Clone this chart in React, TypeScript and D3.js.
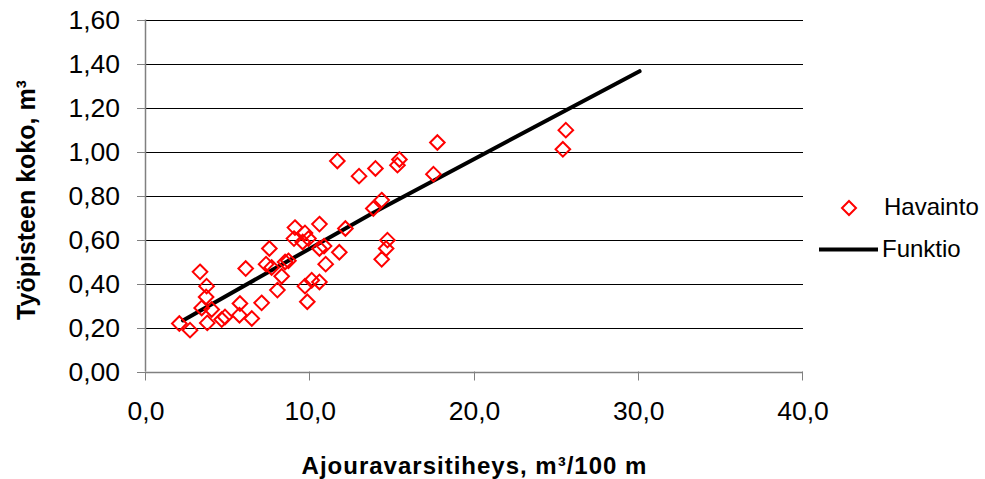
import React from "react";
import * as d3 from "d3";

const obsX = [2.03, 2.68, 3.29, 3.69, 3.66, 3.39, 4.0, 3.73, 4.61, 4.81, 5.72, 5.69, 6.44, 6.07, 7.04, 7.51, 7.31, 7.65, 8.0, 8.26, 8.47, 8.67, 9.07, 9.01, 9.54, 9.68, 9.89, 9.68, 10.09, 9.82, 10.56, 10.56, 10.56, 10.84, 10.94, 11.77, 11.65, 12.14, 12.97, 13.97, 13.84, 14.35, 14.7, 14.62, 14.35, 15.31, 15.43, 17.5, 17.74, 25.38, 25.56];
const obsY = [0.218, 0.188, 0.453, 0.388, 0.339, 0.289, 0.282, 0.221, 0.236, 0.248, 0.309, 0.256, 0.241, 0.468, 0.312, 0.559, 0.488, 0.473, 0.37, 0.433, 0.498, 0.503, 0.654, 0.604, 0.589, 0.63, 0.604, 0.388, 0.415, 0.317, 0.407, 0.67, 0.559, 0.57, 0.488, 0.542, 0.957, 0.65, 0.888, 0.923, 0.741, 0.779, 0.597, 0.559, 0.51, 0.938, 0.964, 0.897, 1.041, 1.01, 1.097];
const funcX = [2.25, 13.84, 30.05];
const funcY = [0.232, 0.722, 1.365];
const xTicks = [0, 10, 20, 30, 40];
const yTicks = [0, 0.2, 0.4, 0.6, 0.8, 1.0, 1.2, 1.4, 1.6];

const W = 985;
const H = 479;
const FONT = "'Liberation Sans', Arial, Helvetica, sans-serif";

export default function App() {
  const x = d3.scaleLinear().domain([0, 40]).range([146, 803]);
  const y = d3.scaleLinear().domain([0, 1.6]).range([371.5, 19.5]);
  const fmtX = (v: number) => v.toFixed(1).replace(".", ",");
  const fmtY = (v: number) => v.toFixed(2).replace(".", ",");
  const line = d3
    .line<number>()
    .x((_, i) => x(funcX[i]))
    .y((d) => y(d));
  const diamond = (cx: number, cy: number, r: number) =>
    `M${cx},${cy - r}L${cx + r},${cy}L${cx},${cy + r}L${cx - r},${cy}Z`;
  const x0 = x(0);
  const y0 = y(0);

  return (
    <div style={{ position: "absolute", left: 0, top: 0 }}>
      <svg width={W} height={H} style={{ display: "block", background: "#fff" }} fontFamily={FONT}>
        {yTicks
          .filter((t) => t > 0)
          .map((t) => (
            <line key={"g" + t} x1={x0} x2={x(40)} y1={Math.round(y(t)) + 0.5} y2={Math.round(y(t)) + 0.5} stroke="#000" strokeWidth={1} />
          ))}
        {/* axes */}
        <line x1={x0 - 0.5} x2={x0 - 0.5} y1={y(1.6)} y2={y0} stroke="#808080" strokeWidth={1.5} />
        <line x1={x0} x2={x(40)} y1={Math.round(y0) + 0.5} y2={Math.round(y0) + 0.5} stroke="#808080" strokeWidth={1.5} />
        {yTicks.map((t) => (
          <g key={"yt" + t}>
            <line x1={x0 - 9} x2={x0} y1={Math.round(y(t)) + 0.5} y2={Math.round(y(t)) + 0.5} stroke="#808080" strokeWidth={1} />
            <text x={120} y={y(t) + 9.5} textAnchor="end" fontSize={26.5} fill="#000">
              {fmtY(t)}
            </text>
          </g>
        ))}
        {xTicks.map((t) => (
          <g key={"xt" + t}>
            <line x1={Math.round(x(t)) - 0.5} x2={Math.round(x(t)) - 0.5} y1={y0} y2={y0 + 9} stroke="#808080" strokeWidth={1} />
            <text x={x(t)} y={420} textAnchor="middle" fontSize={26.5} fill="#000">
              {fmtX(t)}
            </text>
          </g>
        ))}
        {/* function line */}
        <path d={line(funcY) || ""} fill="none" stroke="#000" strokeWidth={4} strokeLinecap="round" />
        {/* observations */}
        {obsX.map((v, i) => (
          <path key={"o" + i} d={diamond(x(v), y(obsY[i]), 7.3)} fill="none" stroke="#ff0000" strokeWidth={2} />
        ))}
        {/* titles */}
        <text x={474.5} y={474} textAnchor="middle" fontSize={24} fontWeight="bold" fill="#000" letterSpacing={1}>
          Ajouravarsitiheys, m³/100 m
        </text>
        <text transform="translate(35,200) rotate(-90)" textAnchor="middle" fontSize={25} fontWeight="bold" fill="#000">
          Työpisteen koko, m³
        </text>
        {/* legend */}
        <path d={diamond(849, 208, 7)} fill="none" stroke="#ff0000" strokeWidth={2} />
        <text x={884} y={215} fontSize={24} fill="#000">
          Havainto
        </text>
        <line x1={819} x2={878} y1={249.5} y2={249.5} stroke="#000" strokeWidth={4} />
        <text x={882} y={257} fontSize={24} fill="#000">
          Funktio
        </text>
      </svg>
    </div>
  );
}
